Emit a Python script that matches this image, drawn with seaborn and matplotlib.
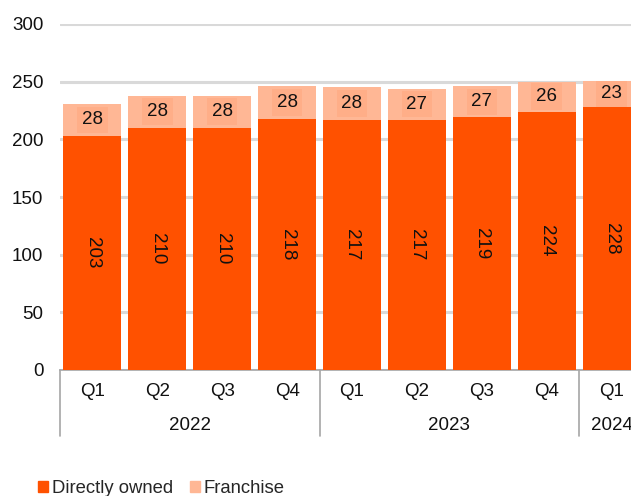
import matplotlib
matplotlib.use("Agg")
import matplotlib.pyplot as plt
import seaborn as sns
import pandas as pd
from matplotlib.patches import Patch

quarters = ["Q1", "Q2", "Q3", "Q4", "Q1", "Q2", "Q3", "Q4", "Q1"]
years = ["2022", "2022", "2022", "2022", "2023", "2023", "2023", "2023", "2024"]
directly_owned = [203, 210, 210, 218, 217, 217, 219, 224, 228]
franchise = [28, 28, 28, 28, 28, 27, 27, 26, 23]

dark = "#FF5100"
light = "#FFB795"
label_bg = "#FFAE88"

sns.set_theme(style="white")
plt.rcParams["font.family"] = ["Liberation Sans", "DejaVu Sans"]

df = pd.DataFrame({
    "slot": [f"{y}-{q}" for y, q in zip(years, quarters)],
    "owned": directly_owned,
    "franchise": franchise,
})
df["total"] = df["owned"] + df["franchise"]

fig = plt.figure(figsize=(6.31, 4.96), dpi=100)
# The plot area runs slightly past the right edge of the figure
ax = fig.add_axes([60 / 631, 1 - 370 / 496, 584 / 631, (370 - 24) / 496])

sns.barplot(data=df, x="slot", y="total", color=light, width=0.894,
            saturation=1, linewidth=0, ax=ax, zorder=2)
sns.barplot(data=df, x="slot", y="owned", color=dark, width=0.894,
            saturation=1, linewidth=0, ax=ax, zorder=3)

ax.set_ylim(0, 300)
ax.set_xlim(-0.5, len(df) - 0.5)
ax.set_yticks(range(0, 301, 50))
ax.yaxis.grid(True, color="#D9D9D9", linewidth=2.2)
ax.set_axisbelow(True)
ax.set_xlabel("")
ax.set_ylabel("")
for side in ["top", "right", "left"]:
    ax.spines[side].set_visible(False)
ax.spines["bottom"].set_color("#A6A6A6")
ax.spines["bottom"].set_linewidth(1.2)
ax.tick_params(axis="y", length=0, labelsize=13.5, pad=12, colors="#111111")
ax.tick_params(axis="x", length=0, labelsize=13.5, pad=9, colors="#111111")
ax.set_xticks(range(len(df)))
ax.set_xticklabels(quarters)

# Value labels
for i, (o, f) in enumerate(zip(directly_owned, franchise)):
    ax.text(i, o / 2, f"{o}", rotation=-90, ha="center", va="center",
            fontsize=13.5, color="#111111", zorder=5)
    ax.text(i, o + f / 2, f"{f}", ha="center", va="center", fontsize=13.5,
            color="#111111", zorder=5,
            bbox=dict(boxstyle="square,pad=0.25", fc=label_bg, ec="none"))

# Year grouping row with separators
trans = ax.get_xaxis_transform()
groups = []
for i, y in enumerate(years):
    if groups and groups[-1][0] == y:
        groups[-1][2] = i
    else:
        groups.append([y, i, i])
sep_bottom = -(436 - 370) / 346
for y, a, b in groups:
    ax.text((a + b) / 2, -(425 - 370) / 346, y, transform=trans,
            ha="center", va="center", fontsize=13.5, color="#111111")
    ax.plot([a - 0.5, a - 0.5], [0, sep_bottom], transform=trans,
            color="#A6A6A6", linewidth=1.2, clip_on=False)

# Legend
handles = [Patch(color=dark, label="Directly owned"),
           Patch(color=light, label="Franchise")]
fig.legend(handles=handles, loc="lower left", bbox_to_anchor=(0.034, -0.035),
           ncol=2, frameon=False, fontsize=13.3, handlelength=0.55,
           handleheight=0.55, handletextpad=0.2, columnspacing=0.9)

fig.savefig("out.png", dpi=100)
